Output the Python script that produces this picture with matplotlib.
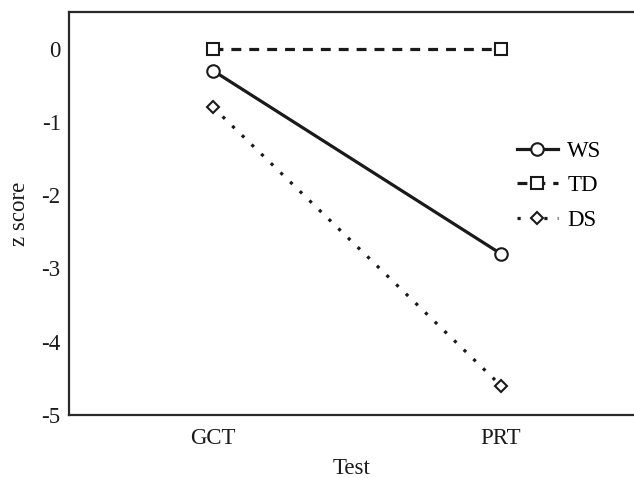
import numpy as np
from matplotlib import pyplot as plt

plt.rcParams["font.family"] = ["Liberation Serif", "DejaVu Serif"]

tests = ["GCT", "PRT"]
ws_scores = [-0.3, -2.8]
td_scores = [0.0, 0.0]
ds_scores = [-0.8, -4.6]

x = np.arange(len(tests))

fig = plt.figure(figsize=(6.34, 4.78), dpi=100)
ax = fig.add_axes([69 / 634, 63 / 478, 1 - 69 / 634, 403 / 478])

ax.plot(x, ws_scores, color="#1a1a1a", linestyle="-", linewidth=2.3,
        marker="o", markersize=9, markerfacecolor="white",
        markeredgewidth=1.5, label="WS")
ax.plot(x, td_scores, color="#1a1a1a", linestyle=(0, (3.1, 2.5)), linewidth=2.3,
        marker="s", markersize=8.5, markerfacecolor="white",
        markeredgewidth=1.5, label="TD")
ax.plot(x, ds_scores, color="#1a1a1a", linestyle=(0, (1, 3.2)), linewidth=2.3,
        marker="D", markersize=6, markerfacecolor="white",
        markeredgewidth=1.5, label="DS")

ax.set_xlim(-0.5, 1.462)
ax.set_ylim(-5, 0.5)
ax.set_xticks(x)
ax.set_xticklabels(tests)
ax.set_yticks([0, -1, -2, -3, -4, -5])
ax.set_yticklabels(["0", "-1", "-2", "-3", "-4", "-5"])
ax.tick_params(length=0, labelsize=16.5, colors="#1a1a1a")
ax.tick_params(axis="x", pad=9)
ax.tick_params(axis="y", pad=6)

ax.set_xlabel("Test", fontsize=16.5, labelpad=7, color="#1a1a1a")
ax.set_ylabel("z score", fontsize=16.5, labelpad=8, color="#1a1a1a")

for side in ["left", "top", "bottom"]:
    ax.spines[side].set_linewidth(1.6)
    ax.spines[side].set_color("#2a2a2a")
ax.spines["right"].set_visible(False)

ax.legend(loc="center left", bbox_to_anchor=(0.756, 0.569), frameon=False,
          fontsize=16.5, handlelength=1.8, handletextpad=0.4, labelspacing=0.58)

plt.savefig("out.png", dpi=100)
